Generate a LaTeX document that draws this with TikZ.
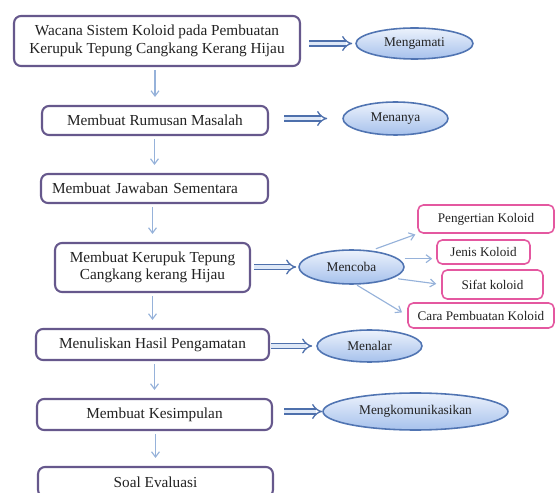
\documentclass[tikz,border=0pt]{standalone}
\usepackage{fontspec}
\setmainfont{Liberation Serif}
\usetikzlibrary{shapes.geometric,arrows.meta}

\definecolor{kotak}{RGB}{102,88,140}
\definecolor{teks}{RGB}{34,34,34}
\definecolor{elips}{RGB}{80,116,178}
\definecolor{elipsatas}{RGB}{236,242,252}
\definecolor{elipsbawah}{RGB}{166,193,236}
\definecolor{merahmuda}{RGB}{228,88,160}
\definecolor{panah}{RGB}{150,178,218}
\definecolor{panahtepi}{RGB}{78,112,172}
\definecolor{panahisi}{RGB}{222,232,247}

\begin{document}
\begin{tikzpicture}[
        x=0.02cm, y=-0.02cm,
        langkah/.style={draw=kotak, line width=1.2pt, rounded corners=4pt, fill=white,
            text=teks, font=\fontsize{8.7}{10}\selectfont, align=center, inner sep=0pt},
        kegiatan/.style={ellipse, draw=elips, line width=0.9pt, top color=elipsatas,
            bottom color=elipsbawah, text=teks, font=\fontsize{7.6}{9}\selectfont, inner sep=0pt},
        aspek/.style={draw=merahmuda, line width=0.9pt, rounded corners=3pt, fill=white,
            text=teks, font=\fontsize{7.5}{9}\selectfont, inner sep=0pt},
        alur/.style={draw=panah, line width=0.65pt, -{Straight Barb[length=3pt,width=4.5pt]}},
        ganda/.style={draw=panahtepi, double=panahisi, line width=0.75pt,
            double distance=2.2pt, -{Implies}}
    ]

    % ukuran gambar
    \useasboundingbox (0,0) rectangle (555,493);
    \clip (0,0) rectangle (555,493);

    % kolom langkah (kiri)
    \node[langkah, minimum width=5.72cm, minimum height=1cm] (wacana) at (157,41)
        {Wacana Sistem Koloid pada Pembuatan\\Kerupuk Tepung Cangkang Kerang Hijau};
    \node[langkah, minimum width=4.52cm, minimum height=0.58cm] (rumusan) at (155,120.5)
        {Membuat Rumusan Masalah};
    \node[langkah, minimum width=4.54cm, minimum height=0.58cm, text width=4.1cm,
        align=left, inner xsep=0.22cm] (jawaban) at (154.5,188.5)
        {Membuat Jawaban Sementara};
    \node[langkah, minimum width=3.9cm, minimum height=0.98cm] (kerupuk) at (152.5,267.5)
        {Membuat Kerupuk Tepung\\Cangkang kerang Hijau};
    \node[langkah, minimum width=4.66cm, minimum height=0.62cm] (menulis) at (152.5,344.5)
        {Menuliskan Hasil Pengamatan};
    \node[langkah, minimum width=4.7cm, minimum height=0.62cm] (simpulan) at (154.5,414.5)
        {Membuat Kesimpulan};
    \node[langkah, minimum width=4.7cm, minimum height=0.6cm] (soal) at (155.5,482)
        {Soal Evaluasi};

    % panah antar langkah
    \foreach \a/\b in {wacana/rumusan, rumusan/jawaban, jawaban/kerupuk,
        kerupuk/menulis, menulis/simpulan, simpulan/soal}
        \draw[alur, shorten <=0.06cm, shorten >=0.16cm] (\b.north |- \a.south) -- (\b.north);

    % kegiatan (elips)
    \node[kegiatan, minimum width=2.34cm, minimum height=0.62cm] (amati) at (414.5,43.5) {Mengamati};
    \node[kegiatan, minimum width=2.1cm, minimum height=0.66cm] (tanya) at (395.5,118.5) {Menanya};
    \node[kegiatan, minimum width=2.1cm, minimum height=0.68cm] (coba) at (351.5,267) {Mencoba};
    \node[kegiatan, minimum width=2.1cm, minimum height=0.64cm] (nalar) at (369.5,346) {Menalar};
    \node[kegiatan, minimum width=3.7cm, minimum height=0.74cm] (komunikasi) at (415.5,411.5)
        {Mengkomunikasikan};

    % panah ganda ke kegiatan
    \draw[ganda, shorten <=0.16cm, shorten >=0.06cm] (wacana.east |- amati.west) -- (amati.west);
    \draw[ganda, shorten <=0.3cm, shorten >=0.3cm] (rumusan.east |- tanya.west) -- (tanya.west);
    \draw[ganda, shorten <=0.06cm, shorten >=0.04cm] (kerupuk.east |- coba.west) -- (coba.west);
    \draw[ganda, shorten <=0.02cm, shorten >=0.08cm] (menulis.east |- nalar.west) -- (nalar.west);
    \draw[ganda, shorten <=0.22cm, shorten >=0cm] (simpulan.east |- komunikasi.west) -- (komunikasi.west);

    % hasil percobaan
    \node[aspek, minimum width=2.72cm, minimum height=0.56cm] (pengertian) at (486,219) {Pengertian Koloid};
    \node[aspek, minimum width=1.86cm, minimum height=0.48cm] (jenis) at (483.5,252) {Jenis Koloid};
    \node[aspek, minimum width=2.02cm, minimum height=0.58cm] (sifat) at (492.5,284.5) {Sifat koloid};
    \node[aspek, minimum width=2.92cm, minimum height=0.5cm] (cara) at (481,315.5) {Cara Pembuatan Koloid};

    \draw[alur, shorten <=0.1cm, shorten >=0.04cm] (coba.40) -- (pengertian.south west);
    \draw[alur, shorten <=0.12cm, shorten >=0.08cm] (coba.10) -- (coba.10 -| jenis.west);
    \draw[alur, shorten <=0.1cm, shorten >=0.1cm] (coba.-15) -- (sifat.west);
    \draw[alur, shorten <=0.02cm, shorten >=0.12cm] (coba.-75) -- (cara.west);

\end{tikzpicture}
\end{document}
